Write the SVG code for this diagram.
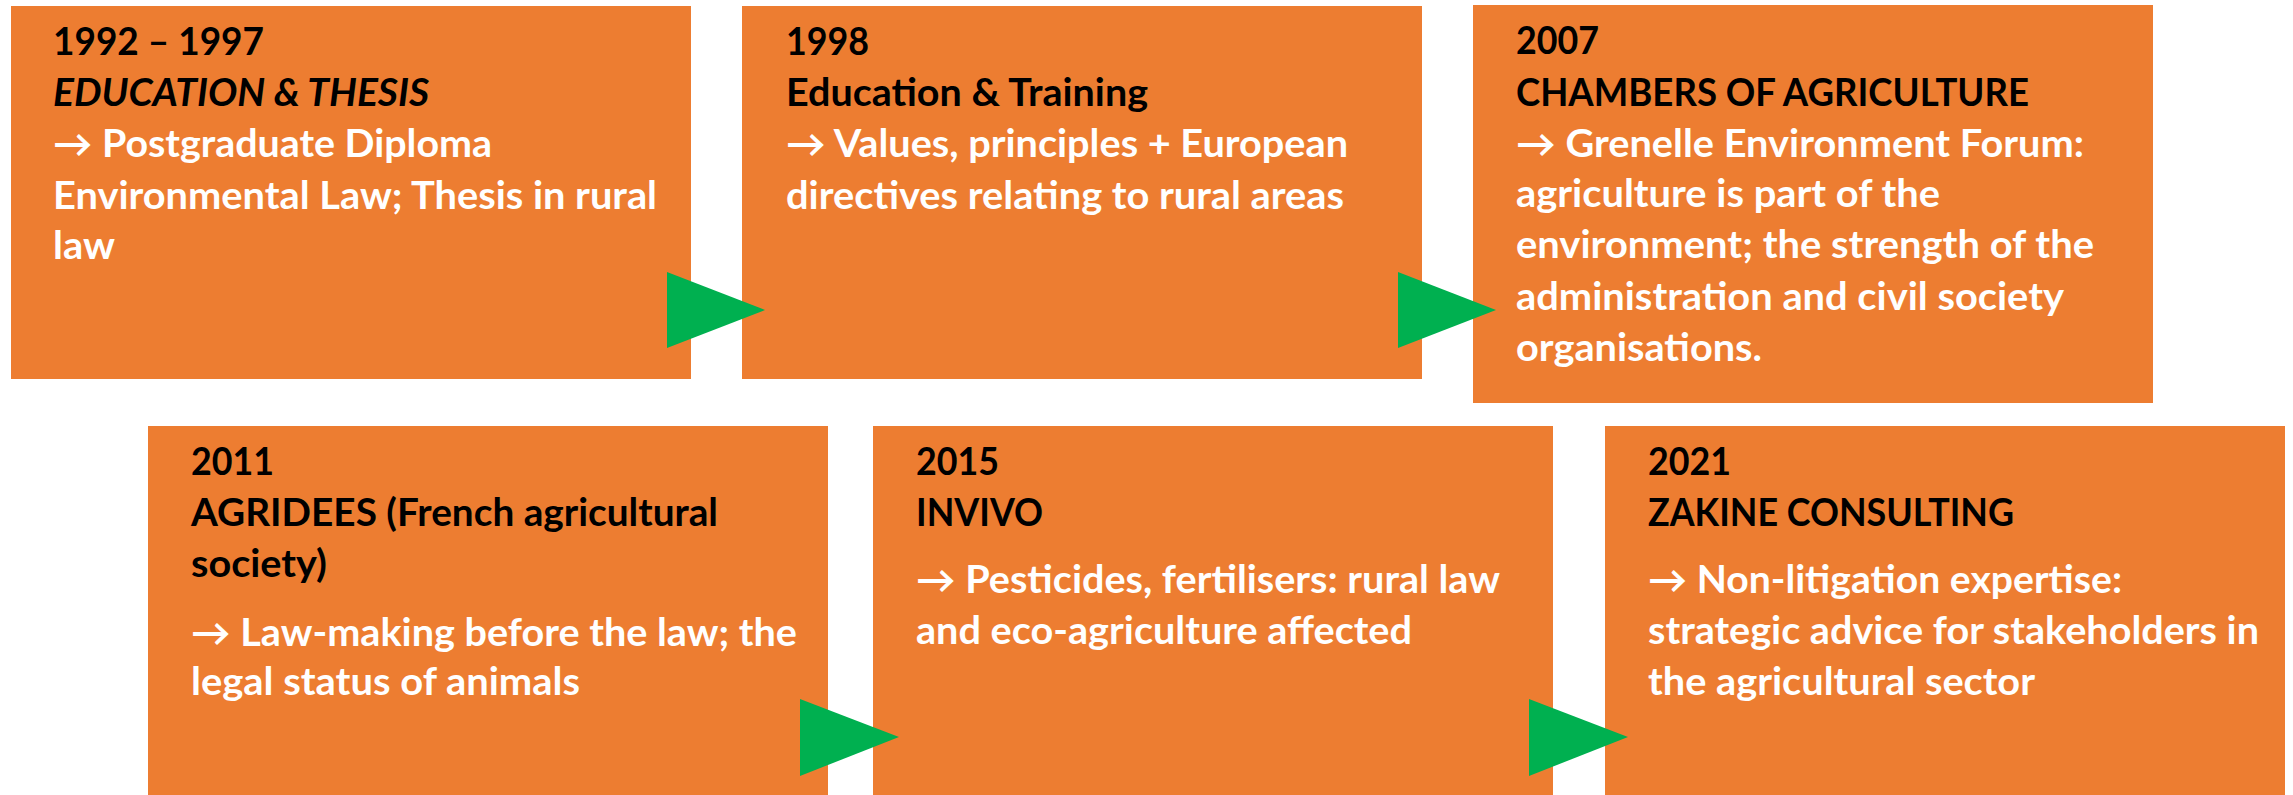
<svg xmlns="http://www.w3.org/2000/svg" width="2293" height="795" viewBox="0 0 2293 795">
<style>
.box{fill:#ED7D31}
.t{font-family:Lato,"Open Sans","DejaVu Sans",sans-serif;font-weight:bold;font-size:37.5px}
.h{fill:#000000}
.b{fill:#FFFFFF}
.i{font-style:italic}
.arr{fill:#00B050}
</style>
<rect width="2293" height="795" fill="#FFFFFF"/>
<g id="node1">
<rect class="box" x="11" y="6" width="680" height="373"/>
<text class="t h" x="53" y="55" textLength="211" lengthAdjust="spacingAndGlyphs">1992 – 1997</text>
<text class="t h i" x="53" y="106" textLength="376" lengthAdjust="spacingAndGlyphs">EDUCATION &amp; THESIS</text>
<text class="t b" x="53" y="157" textLength="439" lengthAdjust="spacingAndGlyphs">→ Postgraduate Diploma</text>
<text class="t b" x="53" y="209" textLength="604" lengthAdjust="spacingAndGlyphs">Environmental Law; Thesis in rural</text>
<text class="t b" x="53" y="259" textLength="62" lengthAdjust="spacingAndGlyphs">law</text>
</g>
<g id="node2">
<rect class="box" x="742" y="6" width="680" height="373"/>
<text class="t h" x="786" y="55" textLength="83" lengthAdjust="spacingAndGlyphs">1998</text>
<text class="t h" x="786" y="106" textLength="362" lengthAdjust="spacingAndGlyphs">Education &amp; Training</text>
<text class="t b" x="786" y="157" textLength="562" lengthAdjust="spacingAndGlyphs">→ Values, principles + European</text>
<text class="t b" x="786" y="209" textLength="558" lengthAdjust="spacingAndGlyphs">directives relating to rural areas</text>
</g>
<g id="node3">
<rect class="box" x="1473" y="5" width="680" height="398"/>
<text class="t h" x="1516" y="54" textLength="83" lengthAdjust="spacingAndGlyphs">2007</text>
<text class="t h" x="1516" y="106" textLength="513" lengthAdjust="spacingAndGlyphs">CHAMBERS OF AGRICULTURE</text>
<text class="t b" x="1516" y="157" textLength="568" lengthAdjust="spacingAndGlyphs">→ Grenelle Environment Forum:</text>
<text class="t b" x="1516" y="207" textLength="424" lengthAdjust="spacingAndGlyphs">agriculture is part of the</text>
<text class="t b" x="1516" y="258" textLength="578" lengthAdjust="spacingAndGlyphs">environment; the strength of the</text>
<text class="t b" x="1516" y="310" textLength="548" lengthAdjust="spacingAndGlyphs">administration and civil society</text>
<text class="t b" x="1516" y="361" textLength="246" lengthAdjust="spacingAndGlyphs">organisations.</text>
</g>
<g id="node4">
<rect class="box" x="148" y="426" width="680" height="370"/>
<text class="t h" x="191" y="475" textLength="83" lengthAdjust="spacingAndGlyphs">2011</text>
<text class="t h" x="191" y="526" textLength="527" lengthAdjust="spacingAndGlyphs">AGRIDEES (French agricultural</text>
<text class="t h" x="191" y="577" textLength="136" lengthAdjust="spacingAndGlyphs">society)</text>
<text class="t b" x="191" y="646" textLength="606" lengthAdjust="spacingAndGlyphs">→ Law-making before the law; the</text>
<text class="t b" x="191" y="695" textLength="389" lengthAdjust="spacingAndGlyphs">legal status of animals</text>
</g>
<g id="node5">
<rect class="box" x="873" y="426" width="680" height="370"/>
<text class="t h" x="916" y="475" textLength="83" lengthAdjust="spacingAndGlyphs">2015</text>
<text class="t h" x="916" y="526" textLength="127" lengthAdjust="spacingAndGlyphs">INVIVO</text>
<text class="t b" x="916" y="593" textLength="584" lengthAdjust="spacingAndGlyphs">→ Pesticides, fertilisers: rural law</text>
<text class="t b" x="916" y="644" textLength="496" lengthAdjust="spacingAndGlyphs">and eco-agriculture affected</text>
</g>
<g id="node6">
<rect class="box" x="1605" y="426" width="680" height="370"/>
<text class="t h" x="1648" y="475" textLength="83" lengthAdjust="spacingAndGlyphs">2021</text>
<text class="t h" x="1648" y="526" textLength="366" lengthAdjust="spacingAndGlyphs">ZAKINE CONSULTING</text>
<text class="t b" x="1648" y="593" textLength="474" lengthAdjust="spacingAndGlyphs">→ Non-litigation expertise:</text>
<text class="t b" x="1648" y="644" textLength="611" lengthAdjust="spacingAndGlyphs">strategic advice for stakeholders in</text>
<text class="t b" x="1648" y="695" textLength="387" lengthAdjust="spacingAndGlyphs">the agricultural sector</text>
</g>
<g id="connectors">
<polygon class="arr" points="667,272 765,310 667,348"/>
<polygon class="arr" points="1398,272 1496,310 1398,348"/>
<polygon class="arr" points="800,699 899,737 800,776"/>
<polygon class="arr" points="1529,699 1628,737 1529,776"/>
</g>
</svg>
